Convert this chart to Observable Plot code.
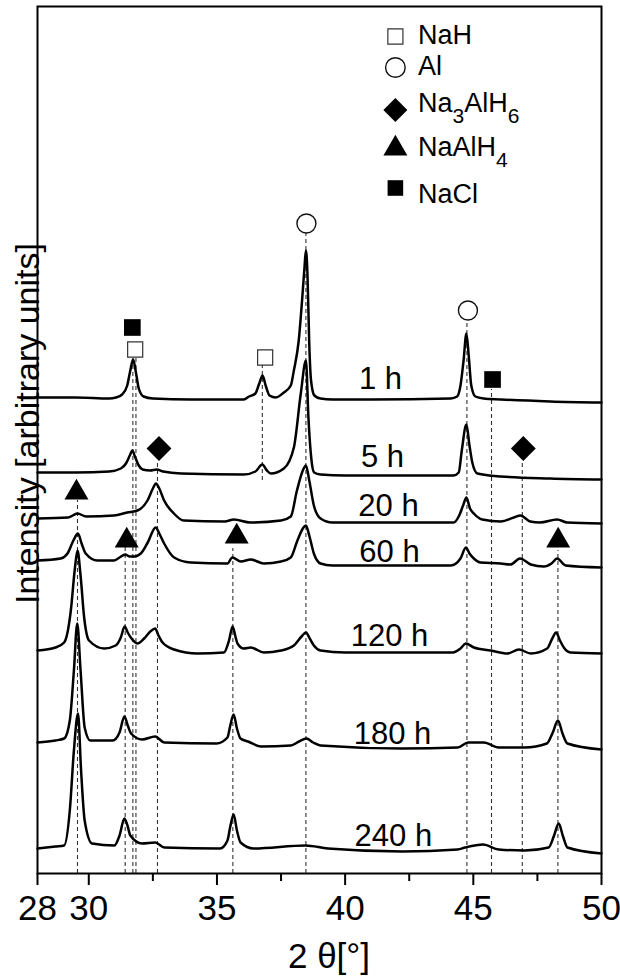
<!DOCTYPE html>
<html>
<head>
<meta charset="utf-8">
<script src="https://cdn.jsdelivr.net/npm/d3@7"></script>
<script src="https://cdn.jsdelivr.net/npm/@observablehq/plot@0.6"></script>
<style>
  html, body { margin: 0; padding: 0; background: #fff; }
</style>
</head>
<body>
<div id="chart"></div>
<script>
// ---------------- DATA ----------------
const times = ["1 h", "5 h", "20 h", "60 h", "120 h", "180 h", "240 h"];

// [2theta (deg), stacked intensity (arbitrary units)]
const pattern1h = [[28.0,476],[29.5,476],[30.8,475],[31.06,476],[31.3,479],[31.5,488],[31.62,503],[31.73,514],[31.84,501],[31.95,485],[32.14,477],[32.5,475],[34.0,474],[36.05,474],[36.25,477],[36.5,480],[36.65,490],[36.78,498],[36.9,488],[37.05,478],[37.3,476],[37.61,481],[37.88,488],[38.0,503],[38.19,533],[38.32,573],[38.42,608],[38.47,623],[38.53,600],[38.6,530],[38.67,493],[38.8,478],[39.04,475],[39.5,474],[41.0,474],[44.12,475],[44.37,477],[44.5,488],[44.62,513],[44.73,540],[44.82,518],[44.92,488],[45.08,477],[45.4,475],[46.07,474],[48.0,472],[50.0,471]];
const pattern5h = [[28.0,401],[29.5,401],[30.8,402],[31.25,405],[31.45,410],[31.6,418],[31.7,423],[31.8,417],[31.95,408],[32.1,404],[32.4,403],[32.65,404],[32.9,402],[33.6,400],[36.05,399],[36.5,402],[36.77,409],[36.95,403],[37.1,400],[37.61,405],[38.0,426],[38.27,480],[38.47,513],[38.57,455],[38.68,415],[38.79,401],[39.04,399],[40.0,398],[44.23,398],[44.43,401],[44.55,423],[44.73,449],[44.85,428],[44.96,411],[45.16,400],[46.07,397],[48.0,395],[50.0,394]];
const pattern20h = [[28.0,355],[29.2,356],[29.56,360],[29.9,357],[30.98,358],[31.5,361],[31.9,363],[32.29,373],[32.5,385],[32.62,390],[32.75,385],[32.94,373],[33.32,360],[33.7,353],[35.3,352],[35.66,354],[36.3,351],[37.5,353],[37.88,357],[38.12,383],[38.35,403],[38.47,408],[38.6,393],[38.78,368],[39.04,355],[39.5,351],[44.23,351],[44.45,358],[44.6,368],[44.73,376],[44.87,365],[45.02,360],[45.35,354],[46.07,352],[46.58,356],[46.84,358],[47.22,352],[47.6,351],[48.27,354],[48.66,351],[50.0,350]];
const pattern60h = [[28.0,313],[28.9,315],[29.17,320],[29.4,333],[29.58,340],[29.72,330],[29.88,320],[30.34,313],[30.98,313],[31.2,316],[31.42,319],[31.6,317],[31.77,317],[32.03,320],[32.3,331],[32.61,346],[32.75,340],[32.94,330],[33.33,316],[33.98,311],[35.41,310],[35.6,316],[35.93,312],[36.32,314],[36.83,310],[37.5,312],[37.88,316],[38.14,333],[38.35,345],[38.47,348],[38.6,338],[38.78,320],[39.04,310],[39.5,308],[44.12,308],[44.5,315],[44.71,326],[44.85,320],[45.02,315],[45.28,311],[46.07,310],[46.45,309],[46.82,315],[47.24,309],[47.75,307],[48.05,310],[48.27,315],[48.6,308],[50.0,306]];
const pattern120h = [[28.0,223],[28.7,226],[29.04,231],[29.3,263],[29.45,303],[29.56,323],[29.68,298],[29.82,256],[30.01,233],[30.6,225],[31.05,228],[31.25,236],[31.4,247],[31.52,241],[31.64,236],[31.9,230],[32.16,235],[32.4,242],[32.59,245],[32.72,238],[32.88,231],[33.33,224],[34.24,220],[35.27,221],[35.47,233],[35.61,247],[35.72,237],[35.8,230],[36.05,225],[36.32,226],[36.83,221],[37.5,223],[38.0,228],[38.3,237],[38.47,241],[38.62,235],[38.78,228],[39.04,223],[40.0,221],[44.2,221],[44.5,225],[44.71,230],[45.02,226],[45.68,223],[46.33,220],[46.78,224],[47.24,220],[47.88,225],[48.08,235],[48.23,241],[48.38,233],[48.53,226],[48.79,221],[50.0,220]];
const pattern180h = [[28.0,131],[28.7,133],[29.04,135],[29.26,153],[29.42,203],[29.55,250],[29.68,203],[29.84,146],[30.06,133],[30.93,133],[31.2,141],[31.39,157],[31.52,148],[31.65,140],[32.08,134],[32.59,137],[32.95,131],[34.98,130],[35.41,136],[35.52,148],[35.65,159],[35.78,145],[35.92,135],[36.21,132],[36.72,127],[37.88,128],[38.2,132],[38.49,135],[38.75,131],[39.04,128],[42.22,125],[44.39,126],[44.8,131],[45.41,131],[45.99,126],[47.0,126],[47.87,130],[48.1,141],[48.3,153],[48.48,140],[48.67,130],[50.0,124]];
const pattern240h = [[28.0,25],[28.7,27],[29.04,28],[29.26,63],[29.42,123],[29.58,160],[29.7,103],[29.84,53],[30.13,30],[31.0,28],[31.2,38],[31.39,55],[31.52,47],[31.62,38],[32.08,30],[32.59,31],[32.95,26],[35.12,25],[35.41,33],[35.52,47],[35.65,59],[35.78,43],[35.92,31],[36.43,25],[38.46,28],[39.33,25],[42.22,22],[44.39,24],[44.68,26],[45.38,29],[45.99,24],[47.0,23],[47.94,26],[48.15,38],[48.33,50],[48.5,37],[48.67,26],[50.0,20]];
const patterns = [pattern1h, pattern5h, pattern20h, pattern60h, pattern120h, pattern180h, pattern240h];

// phase reflections (reference lines) and their markers
const phases = ["NaH", "Al", "Na3AlH6", "NaAlH4", "NaCl"];
const reflPhase = ["NaAlH4","NaAlH4","NaCl","NaH","Na3AlH6","NaAlH4","NaH","Al","Al","NaCl","Na3AlH6","NaAlH4"];
const reflTheta = [29.56, 31.42, 31.72, 31.84, 32.68, 35.62, 36.77, 38.47, 44.75, 45.71, 46.91, 48.30];
const reflTop = [373, 326, 515, 515, 410, 325, 508, 640, 552, 484, 411, 323];
const reflBottom = [0, 0, 0, 0, 0, 0, 393, 0, 0, 0, 0, 0];
const markerTheta = [29.52, 31.48, 31.70, 31.81, 32.74, 35.77, 36.88, 38.49, 44.79, 45.75, 46.95, 48.31];
const markerI = [381, 333, 546, 524, 425, 337, 516, 650, 563, 494, 425, 333];

const majorTicks = [28, 30, 35, 40, 45, 50];
const minorTicks = [32.5, 37.5, 42.5, 47.5];
const xTitle = "2 θ[°]";
const yTitle = "Intensity [arbitrary units]";

// ---------------- LAYOUT / STYLE ----------------
const curveLabelAt = [[41.38,485],[41.46,407],[41.69,358],[41.73,312],[41.73,228],[41.85,130],[41.88,28]];
const legendLayout = {
  symbolX: 41.96, textX: 42.84,
  symbolY: [837, 806, 763.5, 725, 685.5],
  textY: [830, 799, 762, 718, 671]
};
const phaseStyle = {
  NaH:     {symbol: "square",   fill: "white", stroke: "#333", strokeWidth: 1.2, r: 8.5},
  Al:      {symbol: "circle",   fill: "white", stroke: "#111", strokeWidth: 1.4, r: 9.5},
  Na3AlH6: {symbol: "diamond2", fill: "black", stroke: "none", r: 11.2},
  NaAlH4:  {symbol: "triangle", fill: "black", stroke: "none", r: 8.9},
  NaCl:    {symbol: "square",   fill: "black", stroke: "none", r: 9.4}
};
const legendR = {NaH: 8.5, Al: 9.8, Na3AlH6: 10.8, NaAlH4: 8.9, NaCl: 8.8};

// ---------------- BUILD TABLES ----------------
const curveRows = patterns.flatMap((pts, i) => pts.map(([theta, I]) => ({time: times[i], theta, I})));
const refs = reflTheta.map((theta, i) => ({phase: reflPhase[i], theta, top: reflTop[i], bottom: reflBottom[i]}));
const markers = markerTheta.map((theta, i) => ({phase: reflPhase[i], theta, I: markerI[i]}));
const curveLabels = times.map((t, i) => ({time: t, theta: curveLabelAt[i][0], I: curveLabelAt[i][1]}));
const legendRows = phases.map((p, i) => ({
  phase: p,
  label: p.replace(/(\d)/g, "_$1"),
  sx: legendLayout.symbolX, sy: legendLayout.symbolY[i],
  tx: legendLayout.textX, ty: legendLayout.textY[i]
}));

const markerMarks = phases.map(p => Plot.dot(markers.filter(d => d.phase === p), {x: "theta", y: "I", ...phaseStyle[p]}));
const legendMarks = phases.map(p => Plot.dot(legendRows.filter(d => d.phase === p), {x: "sx", y: "sy", ...phaseStyle[p], r: legendR[p]}));

const chart = Plot.plot({
  width: 620,
  height: 978,
  marginLeft: 37,
  marginRight: 19,
  marginTop: 6,
  marginBottom: 105,
  x: {domain: [28, 50]},
  y: {domain: [0, 867], axis: null},
  style: {fontFamily: "'Liberation Sans', Arial, Helvetica, sans-serif", background: "white", color: "black"},
  marks: [
    Plot.ruleX(refs, {x: "theta", y1: "bottom", y2: "top", stroke: "#333", strokeWidth: 1.1, strokeDasharray: "4,3"}),
    Plot.line(curveRows, {x: "theta", y: "I", z: "time", stroke: "black", strokeWidth: 2.5, curve: "monotone-x"}),
    ...markerMarks,
    Plot.text(curveLabels, {x: "theta", y: "I", text: "time", fontSize: 31, lineAnchor: "bottom", textAnchor: "middle", fill: "black"}),
    ...legendMarks,
    Plot.text(legendRows, {x: "tx", y: "ty", text: "label", fontSize: 27, lineAnchor: "bottom", textAnchor: "start", fill: "black"}),
    Plot.frame({stroke: "black", strokeWidth: 2}),
    Plot.axisX({ticks: majorTicks, tickSize: 12, tickPadding: 10, fontSize: 35, strokeWidth: 2, label: null}),
    Plot.axisX({ticks: minorTicks, tickSize: 8, tickFormat: () => "", strokeWidth: 2, label: null}),
    Plot.text([xTitle], {text: d => d, frameAnchor: "bottom", lineAnchor: "bottom", dy: 94, dx: 9.5, fontSize: 35, fill: "black"}),
    Plot.text([yTitle], {text: d => d, frameAnchor: "left", rotate: -90, lineAnchor: "bottom", textAnchor: "middle", dy: -16.5, dx: 1, fontSize: 34, fill: "black"})
  ]
});

// subscripts for chemical formulas in the legend
d3.select(chart).selectAll("text").each(function () {
  const t = this.textContent;
  if (!t.includes("_")) return;
  const sel = d3.select(this);
  sel.text(null);
  const parts = t.split(/_(\d)/);
  const shift = 11;
  let inSub = false;
  parts.forEach((p, i) => {
    if (!p) return;
    if (i % 2 === 1) {
      sel.append("tspan").attr("dy", shift).attr("font-size", 21).text(p);
      inSub = true;
    } else {
      const ts = sel.append("tspan").text(p);
      if (inSub) { ts.attr("dy", -shift); inSub = false; }
    }
  });
});

document.getElementById("chart").appendChild(chart);
</script>
</body>
</html>
